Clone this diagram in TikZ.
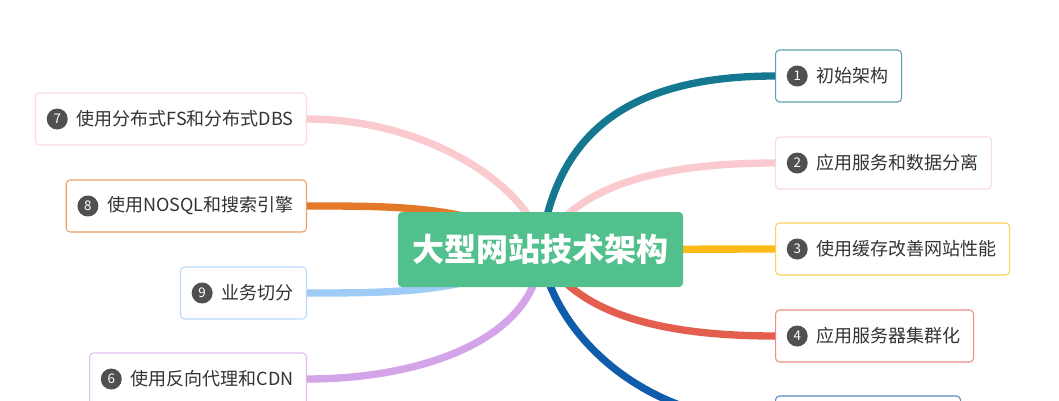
\documentclass[tikz,border=0pt]{standalone}
\usepackage{fontspec}
\setmainfont{Noto Sans CJK SC}
\usetikzlibrary{positioning}

\definecolor{col1}{RGB}{20,120,145}
\definecolor{col2}{RGB}{250,202,206}
\definecolor{col3}{RGB}{252,186,22}
\definecolor{col4}{RGB}{228,94,78}
\definecolor{col5}{RGB}{14,92,170}
\definecolor{col6}{RGB}{211,164,232}
\definecolor{col7}{RGB}{250,202,206}
\definecolor{col8}{RGB}{226,120,40}
\definecolor{col9}{RGB}{158,204,246}
\definecolor{rootgreen}{RGB}{82,192,140}
\definecolor{dotgray}{RGB}{80,80,80}
\definecolor{textgray}{RGB}{51,51,51}

\begin{document}
\begin{tikzpicture}[x=0.75pt,y=-0.75pt]
    % Define styles for the root, the topic boxes and the number dots
    \tikzstyle{root} = [rectangle, rounded corners=3pt, fill=rootgreen, text=white, minimum width=213.75pt, minimum height=56.25pt, font=\fontsize{24pt}{28pt}\selectfont\bfseries]
    \tikzstyle{box} = [rectangle, rounded corners=3pt, fill=white, line width=0.8pt, minimum height=39pt, inner xsep=9.75pt, text=textgray, font=\fontsize{13.5pt}{16pt}\selectfont]
    \tikzstyle{dot} = [circle, fill=dotgray, text=white, minimum size=15.75pt, inner sep=0pt, font=\fontsize{10pt}{12pt}\selectfont]
    \tikzstyle{branch} = [line width=5.5pt]

    \useasboundingbox (0,0) rectangle (1059,400);
    \fill[white] (0,0) rectangle (1059,400);
    \coordinate (hub) at (540.5,249.5);

    % Draw the boxes on the right
    \foreach \i/\y/\txt in {1/76/初始架构, 2/163/应用服务和数据分离, 3/249/使用缓存改善网站性能, 4/336/应用服务器集群化} {
        \node[box, draw=col\i!70, anchor=west] (topic\i) at (775,\y) {\hspace{21pt}\txt};
        \node[dot, right=8.6pt of topic\i.west] (dot\i) {\i};
    }
    \node[box, draw=col5!70, anchor=west, minimum width=138.75pt] (topic5) at (775,422) {};

    % Draw the boxes on the left
    \foreach \i/\y/\txt in {7/119/使用分布式FS和分布式DBS, 8/206/使用NOSQL和搜索引擎, 9/293/业务切分, 6/379/使用反向代理和CDN} {
        \node[box, draw=col\i!70, anchor=east] (topic\i) at (307,\y) {\hspace{21pt}\txt};
        \node[dot, right=8.6pt of topic\i.west] (dot\i) {\i};
    }

    % Draw the branches from the root to each box
    \draw[branch, col1] (hub) .. controls +(14.5,-109.5) and +(-155,0) .. (topic1.west);
    \draw[branch, col2] (hub) .. controls +(30,-60) and +(-125,0) .. (topic2.west);
    \draw[branch, col3] (hub) -- (topic3.west);
    \draw[branch, col4] (hub) .. controls +(30,60) and +(-125,0) .. (topic4.west);
    \draw[branch, col5] (hub) .. controls +(10,80) and +(-135,0) .. (topic5.west);
    \draw[branch, col7] (hub) .. controls +(0,-50) and +(133,0) .. (topic7.east);
    \draw[branch, col8] (hub) .. controls +(-60,-44) and +(93,0) .. (topic8.east);
    \draw[branch, col9] (hub) .. controls +(-60,43) and +(93,0) .. (topic9.east);
    \draw[branch, col6] (hub) .. controls +(0,85) and +(123,0) .. (topic6.east);

    % Draw the root on top
    \node[root] (root) at (hub) {大型网站技术架构};
\end{tikzpicture}
\end{document}
